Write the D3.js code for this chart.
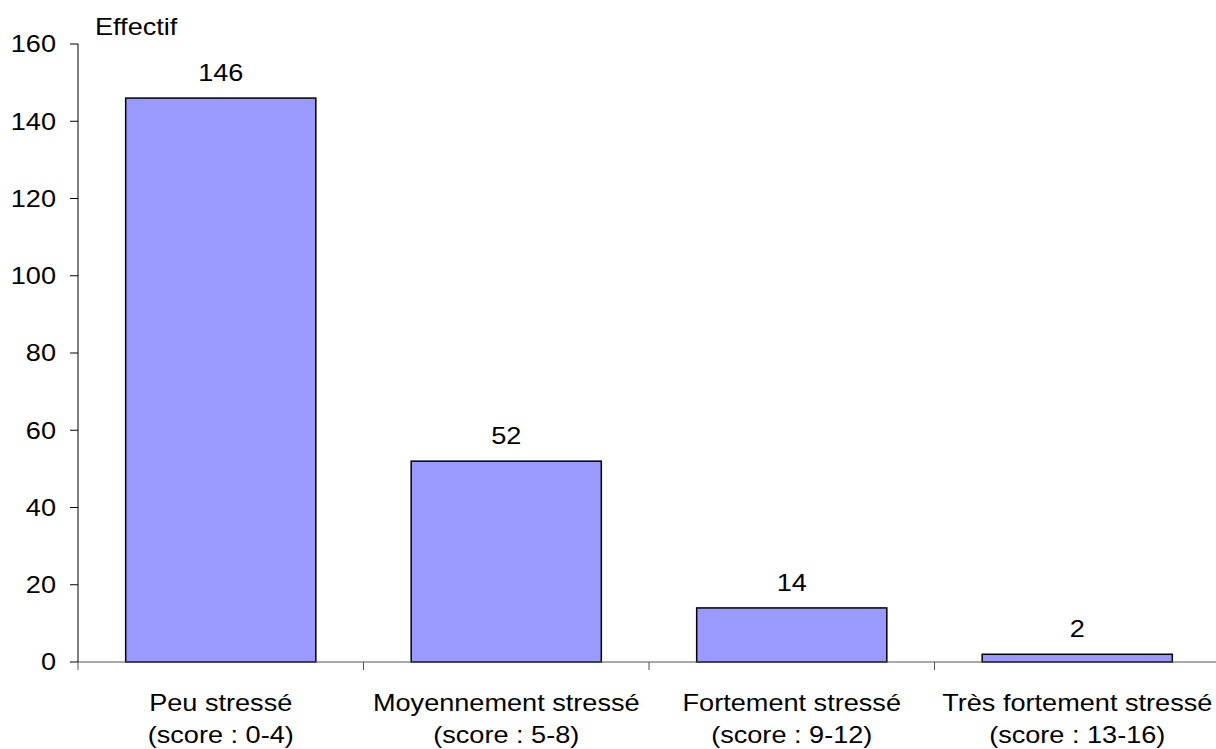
<!DOCTYPE html>
<html><head><meta charset="utf-8">
<script src="https://cdn.jsdelivr.net/npm/d3@7"></script>
<style>body{margin:0;background:#fff}svg{display:block;font-family:"Liberation Sans",Arial,sans-serif}</style>
</head><body>
<script>
const categories = ["Peu stressé", "Moyennement stressé", "Fortement stressé", "Très fortement stressé"];
const subLabels = ["(score : 0-4)", "(score : 5-8)", "(score : 9-12)", "(score : 13-16)"];
const values = [146, 52, 14, 2];
const yTicks = [0, 20, 40, 60, 80, 100, 120, 140, 160];
const yTitle = "Effectif";

const W = 1216, H = 749;
const x0 = 78, x1 = 1220, yTop = 44, yBot = 662;
const svg = d3.select("body").append("svg").attr("width", W).attr("height", H);

const x = d3.scaleBand().domain(categories).range([x0, x1]).padding(0);
const y = d3.scaleLinear().domain([0, 160]).range([yBot, yTop]);
const barW = x.bandwidth() * 0.666;
const fs = 24, sx = 1.13;

function label(g, tx, ty, txt, anchor, dy) {
  const t = g.append("text")
    .attr("transform", `translate(${tx},${ty}) scale(${sx},1)`)
    .attr("text-anchor", anchor).attr("font-size", fs).attr("fill", "#000").text(txt);
  if (dy) t.attr("dy", dy);
  return t;
}

// y axis
const ya = svg.append("g");
ya.append("line").attr("x1", x0).attr("x2", x0).attr("y1", y(160)).attr("y2", yBot).attr("stroke", "#000").attr("stroke-width", 1);
yTicks.forEach(t => {
  ya.append("line").attr("x1", x0 - 8).attr("x2", x0).attr("y1", y(t)).attr("y2", y(t)).attr("stroke", "#000");
  label(ya, 56, y(t), t, "end", "0.35em");
});
label(svg, 95, 35, yTitle, "start");

// bars
const data = categories.map((c, i) => ({c, v: values[i], s: subLabels[i]}));
svg.selectAll("rect.bar").data(data).enter().append("rect").attr("class", "bar")
  .attr("x", d => x(d.c) + (x.bandwidth() - barW) / 2)
  .attr("width", barW)
  .attr("y", d => y(d.v))
  .attr("height", d => yBot - y(d.v))
  .attr("fill", "#9999FF").attr("stroke", "#000").attr("stroke-width", 1.5);

data.forEach(d => label(svg, x(d.c) + x.bandwidth() / 2, y(d.v) - 17, d.v, "middle"));

// x axis
svg.append("line").attr("x1", x0).attr("x2", x1).attr("y1", yBot).attr("y2", yBot).attr("stroke", "#555").attr("stroke-width", 1);
categories.concat([null]).forEach((c, i) => {
  const xx = x0 + i * x.step();
  svg.append("line").attr("x1", xx).attr("x2", xx).attr("y1", yBot).attr("y2", yBot + 8).attr("stroke", "#555");
});
data.forEach(d => {
  label(svg, x(d.c) + x.bandwidth() / 2, 711, d.c, "middle");
  label(svg, x(d.c) + x.bandwidth() / 2, 743, d.s, "middle");
});
</script>
</body></html>
